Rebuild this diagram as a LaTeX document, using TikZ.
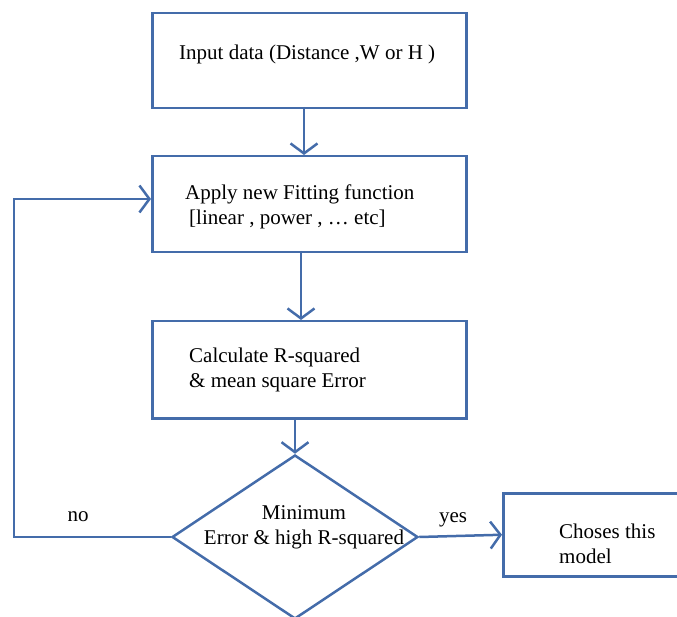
\documentclass[tikz,border=0pt]{standalone}
\usepackage{fontspec}
\setmainfont{Liberation Serif}
\usetikzlibrary{shapes.geometric,arrows.meta}
\definecolor{flow}{RGB}{68,108,170}
\begin{document}
\begin{tikzpicture}[x=1pt,y=-1pt,
  box/.style={draw=flow,line width=2.5pt,minimum width=314pt,minimum height=95pt,inner sep=0pt,anchor=north west},
  lbl/.style={font=\fontsize{21}{25}\selectfont,align=left,anchor=west,inner sep=0pt},
  arr/.style={draw=flow,line width=2.5pt,-{Straight Barb[length=10pt,width=27pt,line width=2.5pt]}}]
  \useasboundingbox (0,0) rectangle (677,617);
  \clip (0,0) rectangle (677,617);

  % process boxes
  \node[box] (b1) at (151,12) {};
  \node[box,minimum height=96pt] (b2) at (151,155) {};
  \node[box,minimum height=97pt] (b3) at (151,320) {};
  \node[box,minimum width=220pt,minimum height=83pt] (b4) at (502,492) {};

  % decision
  \node[draw=flow,line width=2.5pt,diamond,minimum width=246pt,minimum height=164pt,inner sep=0pt] (d) at (295,537) {};

  % texts
  \node[lbl] (t1) at (179,54) {Input data (Distance ,W or H )};
  \node[lbl] (t2a) at (185,194) {Apply new Fitting function};
  \node[lbl] (t2b) at (189,219) {[linear , power , … etc]};
  \node[lbl] (t3) at (189,370) {Calculate R-squared\\\& mean square Error};
  \node[lbl,align=center,anchor=center] (t4) at (304,527) {Minimum\\Error \& high R-squared};
  \node[lbl] (t5) at (559,544) {Choses this\\model};
  \node[lbl,anchor=center] (yes) at (453,520) {yes};
  \node[lbl,anchor=center] (no) at (78,517) {no};

  % connector points
  \coordinate (o1) at (304,107);
  \coordinate (i2) at (304,155);
  \coordinate (o2) at (301,251);
  \coordinate (i3) at (301,320);
  \coordinate (o3) at (295,417);
  \coordinate (lc) at (14,537);
  \coordinate (li) at (151,199);

  % connectors
  \draw[arr] (o1) -- (i2);
  \draw[arr] (o2) -- (i3);
  \draw[arr] (o3) -- (d.north);
  \draw[arr] (d.east) -- (b4.west);
  \draw[arr] (d.west) -- (lc) |- (li);
\end{tikzpicture}
\end{document}
